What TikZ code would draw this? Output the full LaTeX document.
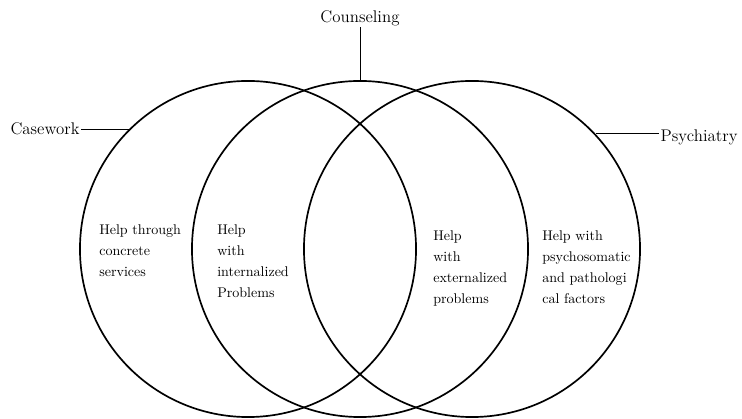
\documentclass[tikz,border=0pt]{standalone}
\usepackage{tikz}
\usetikzlibrary{positioning}
\tikzset{
  venn/.style={draw, circle, line width=1.2pt, minimum size=8.4cm, inner sep=0pt},
  areatext/.style={anchor=north west, align=left, inner sep=0pt, font=\fontsize{10}{15}\selectfont},
  fieldlabel/.style={font=\large, inner sep=1pt},
  leader/.style={line width=0.6pt}
}

\begin{document}
\begin{tikzpicture}[x=0.025cm, y=0.025cm]
  \useasboundingbox (0,0) rectangle (742,419);

  \node[venn] (casecirc) at (248,170) {};
  \node[venn] (counscirc) at (360,170) {};
  \node[venn] (psychcirc) at (472,170) {};

  \node[fieldlabel] (casework) at (45,290) {Casework};
  \node[fieldlabel] (counseling) at (360,401) {Counseling};
  \node[fieldlabel] (psychiatry) at (699,282) {Psychiatry};

  \draw[leader] (casecirc.135) -- (casecirc.135 -| casework.east);
  \draw[leader] (counseling.south) -- (counscirc.north);
  \draw[leader] (psychcirc.43) -- (psychcirc.43 -| psychiatry.west);

  \node[areatext] (concrete) at (99,195) {Help through\\concrete\\services};
  \node[areatext] (internal) at (217,195) {Help\\with\\internalized\\Problems};
  \node[areatext] (external) at (433,189) {Help\\with\\externalized\\problems};
  \node[areatext] (psychosom) at (542,189) {Help with\\psychosomatic\\and pathologi\\cal factors};
\end{tikzpicture}
\end{document}
